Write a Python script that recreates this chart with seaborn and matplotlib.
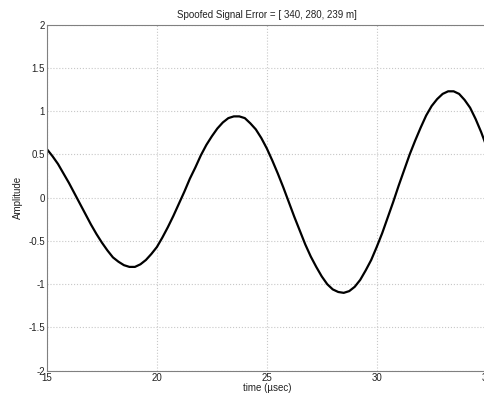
import numpy as np
import pandas as pd
import matplotlib
matplotlib.use("Agg")
import matplotlib.pyplot as plt
import seaborn as sns

# donnees (pas de 0.25 usec)
temps = [15.0, 15.25, 15.5, 15.75, 16.0, 16.25, 16.5, 16.75, 17.0, 17.25,
         17.5, 17.75, 18.0, 18.25, 18.5, 18.75, 19.0, 19.25, 19.5, 19.75,
         20.0, 20.25, 20.5, 20.75, 21.0, 21.25, 21.5, 21.75, 22.0, 22.25,
         22.5, 22.75, 23.0, 23.25, 23.5, 23.75, 24.0, 24.25, 24.5, 24.75,
         25.0, 25.25, 25.5, 25.75, 26.0, 26.25, 26.5, 26.75, 27.0, 27.25,
         27.5, 27.75, 28.0, 28.25, 28.5, 28.75, 29.0, 29.25, 29.5, 29.75,
         30.0, 30.25, 30.5, 30.75, 31.0, 31.25, 31.5, 31.75, 32.0, 32.25,
         32.5, 32.75, 33.0, 33.25, 33.5, 33.75, 34.0, 34.25, 34.5, 34.75, 35.0]
amplitude = [0.56, 0.48, 0.39, 0.28, 0.17, 0.05, -0.07, -0.19, -0.31, -0.42,
             -0.52, -0.61, -0.69, -0.74, -0.78, -0.80, -0.80, -0.77, -0.72, -0.65,
             -0.57, -0.46, -0.34, -0.21, -0.07, 0.07, 0.22, 0.35, 0.49, 0.61,
             0.71, 0.80, 0.87, 0.92, 0.94, 0.94, 0.92, 0.86, 0.79, 0.69,
             0.57, 0.43, 0.28, 0.12, -0.05, -0.22, -0.38, -0.54, -0.68, -0.80,
             -0.91, -1.00, -1.06, -1.09, -1.10, -1.08, -1.03, -0.95, -0.84, -0.72,
             -0.57, -0.41, -0.23, -0.05, 0.14, 0.32, 0.50, 0.66, 0.81, 0.95,
             1.06, 1.14, 1.20, 1.23, 1.23, 1.20, 1.13, 1.04, 0.91, 0.76, 0.59]

xticks = [15, 20, 25, 30, 35]
yticks = [-2, -1.5, -1, -0.5, 0, 0.5, 1, 1.5, 2]
ytick_labels = ["-2", "-1.5", "-1", "-0.5", "0", "0.5", "1", "1.5", "2"]

df = pd.DataFrame({"time": temps, "amp": amplitude})

sns.set_style("whitegrid")
plt.rcParams["font.family"] = ["Liberation Sans", "DejaVu Sans"]

fig = plt.figure(figsize=(4.84, 3.98), dpi=100)
ax = fig.add_axes([47/484, 1-370.7/398, (486.6-47)/484, (370.7-24.7)/398])

sns.lineplot(data=df, x="time", y="amp", color="black", linewidth=1.6, ax=ax)

ax.set_xlim(15, 35)
ax.set_ylim(-2, 2)
ax.set_xticks(xticks)
ax.set_xticklabels([str(t) for t in xticks])
ax.set_yticks(yticks)
ax.set_yticklabels(ytick_labels)
ax.grid(True, linestyle=":", color="#c8c8c8", linewidth=0.8)

for s in ax.spines.values():
    s.set_color("#808080")
    s.set_linewidth(0.8)

ax.tick_params(axis="both", labelsize=7, colors="#808080", labelcolor="#222222",
               direction="in", length=3, pad=1.5)
ax.set_xlabel("time (\u00b5sec)", fontsize=7, color="#222222", labelpad=0)
ax.set_ylabel("Amplitude", fontsize=7, color="#222222", labelpad=4)
ax.set_title("Spoofed Signal Error = [ 340, 280, 239 m]", fontsize=7, color="#222222", pad=5)

fig.savefig("out.png", dpi=100)
